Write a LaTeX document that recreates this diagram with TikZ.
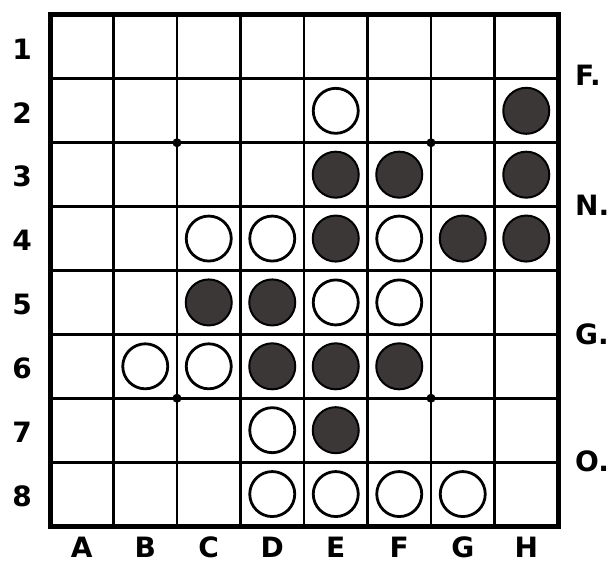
\documentclass[tikz,border=0pt]{standalone}
\usepackage{fontspec}
\setmainfont{DejaVu Sans}
\definecolor{piecegray}{RGB}{60,55,55}
\newcommand\pc[4]{\node[#1] (p#2) at ({50+(#3-0.5)*63.5},{15+(#4-0.5)*63.875}) {};}
\begin{document}
\begin{tikzpicture}[x=1pt,y=-1pt,
  gridline/.style={line width=2.8pt, black},
  border/.style={line width=5pt, black},
  wpiece/.style={circle, draw=black, line width=2.8pt, fill=white, minimum size=45pt, inner sep=0pt},
  bpiece/.style={circle, draw=black, line width=2pt, fill=piecegray, minimum size=46pt, inner sep=0pt},
  lbl/.style={font=\fontsize{28}{28}\bfseries\selectfont, inner sep=0pt},
  stardot/.style={circle, fill=black, minimum size=9pt, inner sep=0pt}]
\useasboundingbox (0,0) rectangle (608,564);
% grid
\foreach \i in {1,...,7} {
  \draw[gridline] ({50+\i*63.5},15) -- ({50+\i*63.5},526);
  \draw[gridline] (50,{15+\i*63.875}) -- (558,{15+\i*63.875});
}
\draw[border] (50,15) rectangle (558,526);
% star points
\node[stardot] (s1) at (177,142.75) {};
\node[stardot] (s2) at (431,142.75) {};
\node[stardot] (s3) at (177,398.25) {};
\node[stardot] (s4) at (431,398.25) {};
% row labels
\foreach \r in {1,...,8} {
  \node[lbl] (row\r) at (22,{15+(\r-0.5)*63.875+2}) {\r};
}
% column labels
\foreach \c [count=\i] in {A,B,C,D,E,F,G,H} {
  \node[lbl] (col\c) at ({50+(\i-0.5)*63.5},547) {\c};
}
% side labels
\node[lbl, anchor=west] (sF) at (575,75) {F.};
\node[lbl, anchor=west] (sN) at (575,205) {N.};
\node[lbl, anchor=west] (sG) at (575,334) {G.};
\node[lbl, anchor=west] (sO) at (575,461) {O.};
% pieces
\pc{wpiece}{E2}{5}{2}
\pc{bpiece}{H2}{8}{2}
\pc{bpiece}{E3}{5}{3}
\pc{bpiece}{F3}{6}{3}
\pc{bpiece}{H3}{8}{3}
\pc{wpiece}{C4}{3}{4}
\pc{wpiece}{D4}{4}{4}
\pc{bpiece}{E4}{5}{4}
\pc{wpiece}{F4}{6}{4}
\pc{bpiece}{G4}{7}{4}
\pc{bpiece}{H4}{8}{4}
\pc{bpiece}{C5}{3}{5}
\pc{bpiece}{D5}{4}{5}
\pc{wpiece}{E5}{5}{5}
\pc{wpiece}{F5}{6}{5}
\pc{wpiece}{B6}{2}{6}
\pc{wpiece}{C6}{3}{6}
\pc{bpiece}{D6}{4}{6}
\pc{bpiece}{E6}{5}{6}
\pc{bpiece}{F6}{6}{6}
\pc{wpiece}{D7}{4}{7}
\pc{bpiece}{E7}{5}{7}
\pc{wpiece}{D8}{4}{8}
\pc{wpiece}{E8}{5}{8}
\pc{wpiece}{F8}{6}{8}
\pc{wpiece}{G8}{7}{8}
\end{tikzpicture}
\end{document}
